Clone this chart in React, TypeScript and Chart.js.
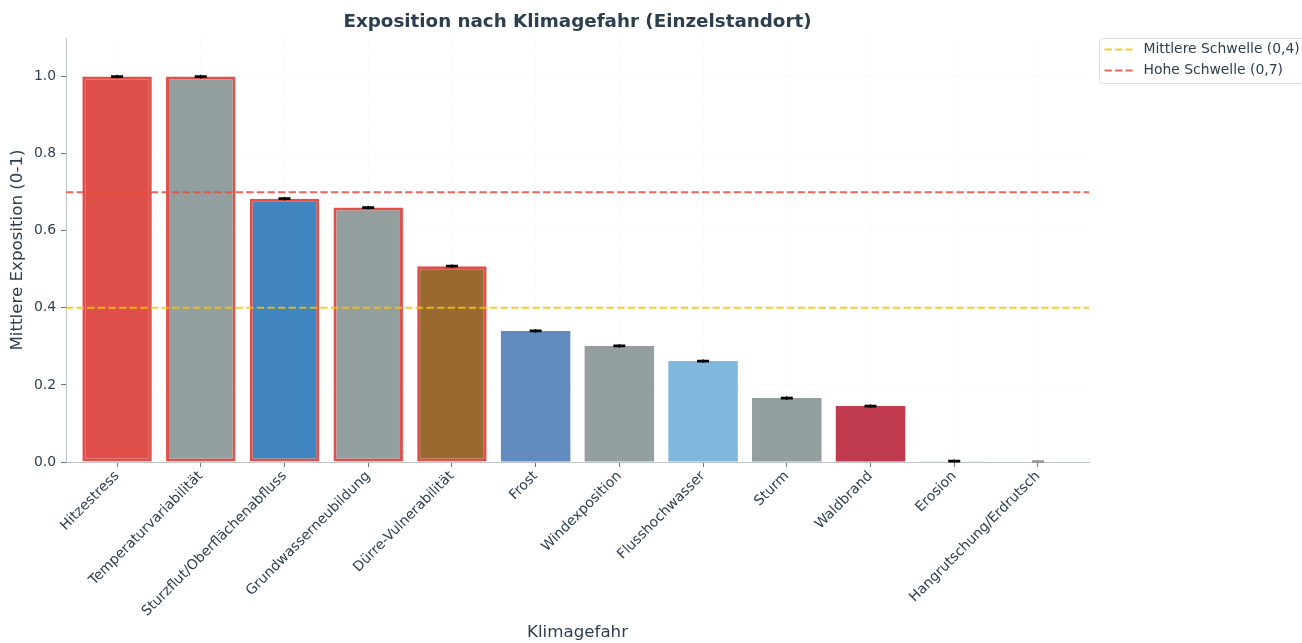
import React, { useEffect, useRef } from "react";
import { Chart, registerables } from "chart.js";

Chart.register(...registerables);

const categories = [
  "Hitzestress",
  "Temperaturvariabilität",
  "Sturzflut/Oberflächenabfluss",
  "Grundwasserneubildung",
  "Dürre-Vulnerabilität",
  "Frost",
  "Windexposition",
  "Flusshochwasser",
  "Sturm",
  "Waldbrand",
  "Erosion",
  "Hangrutschung/Erdrutsch",
];
const exposure = [1.0, 1.0, 0.683, 0.66, 0.508, 0.34, 0.301, 0.262, 0.166, 0.145, 0.002, 0.001];
const errors = [0.001, 0.001, 0.001, 0.001, 0.001, 0.001, 0.001, 0.001, 0.001, 0.001, 0.001, 0.001];
const barColors = [
  "#df4f49", "#939e9e", "#4185c0", "#939e9e", "#9a6930", "#628bbf",
  "#939e9e", "#80b8dd", "#939e9e", "#be3a4c", "#dcdcdc", "#e4e4e4",
];
const capColors = ["#000", "#000", "#000", "#000", "#000", "#000", "#000", "#000", "#000", "#000", "#000", "#999"];
const yTicks = [0, 0.2, 0.4, 0.6, 0.8, 1.0];
const thresholds = [0.4, 0.7];
const thresholdLabels = ["Mittlere Schwelle (0,4)", "Hohe Schwelle (0,7)"];
const thresholdColors = ["rgba(241,196,15,0.85)", "rgba(231,76,60,0.85)"];
const highLimit = 0.5;

const TITLE = "Exposition nach Klimagefahr (Einzelstandort)";
const FONT = "'DejaVu Sans', sans-serif";
const TEXT = "#2c3e50";

const overlay = {
  id: "overlay",
  afterDatasetsDraw(chart: any) {
    const { ctx, chartArea, scales } = chart;
    const x = scales.x;
    const y = scales.y;
    ctx.save();
    thresholds.forEach((t, k) => {
      const py = y.getPixelForValue(t);
      ctx.beginPath();
      ctx.setLineDash([7.4, 3.2]);
      ctx.strokeStyle = thresholdColors[k];
      ctx.lineWidth = 2;
      ctx.moveTo(chartArea.left, py);
      ctx.lineTo(chartArea.right, py);
      ctx.stroke();
    });
    ctx.setLineDash([]);
    exposure.forEach((v, i) => {
      const px = x.getPixelForValue(i);
      const yt = y.getPixelForValue(v + errors[i]);
      const yb = y.getPixelForValue(Math.max(0, v - errors[i]));
      ctx.strokeStyle = capColors[i];
      ctx.lineWidth = 1.2;
      ctx.beginPath();
      ctx.moveTo(px, yt - 1.5);
      ctx.lineTo(px, yb + 1.5);
      ctx.stroke();
      ctx.lineWidth = 2;
      ctx.beginPath();
      ctx.moveTo(px - 6, yt);
      ctx.lineTo(px + 6, yt);
      ctx.moveTo(px - 6, yb);
      ctx.lineTo(px + 6, yb);
      ctx.stroke();
    });
    ctx.restore();
  },
  afterDraw(chart: any) {
    const { ctx, chartArea } = chart;
    ctx.save();
    ctx.fillStyle = TEXT;
    ctx.font = `bold 18.3px ${FONT}`;
    ctx.textAlign = "center";
    ctx.textBaseline = "middle";
    ctx.fillText(TITLE, (chartArea.left + chartArea.right) / 2, 22);
    const lx = chartArea.right + 10.5;
    const ly = chartArea.top + 0.5;
    ctx.beginPath();
    ctx.fillStyle = "rgba(255,255,255,0.9)";
    ctx.strokeStyle = "#dcdfe2";
    ctx.lineWidth = 1;
    (ctx as any).roundRect(lx, ly, 230, 45, 3);
    ctx.fill();
    ctx.stroke();
    ctx.font = `13.9px ${FONT}`;
    ctx.textAlign = "left";
    thresholdLabels.forEach((lab, k) => {
      const yy = ly + 11 + k * 21;
      ctx.beginPath();
      ctx.setLineDash([7.4, 3.2]);
      ctx.strokeStyle = thresholdColors[k];
      ctx.lineWidth = 2;
      ctx.moveTo(lx + 5, yy);
      ctx.lineTo(lx + 33, yy);
      ctx.stroke();
      ctx.setLineDash([]);
      ctx.fillStyle = TEXT;
      ctx.fillText(lab, lx + 44, yy);
    });
    ctx.restore();
  },
};

export default function App() {
  const ref = useRef<HTMLCanvasElement | null>(null);
  useEffect(() => {
    if (!ref.current) return;
    const chart = new Chart(ref.current, {
      type: "bar",
      data: {
        datasets: [
          {
            data: exposure.map((v, i) => ({ x: i, y: v })),
            backgroundColor: barColors,
            borderColor: exposure.map((v) => (v > highLimit ? "#e0504a" : "rgba(0,0,0,0)")),
            borderWidth: exposure.map((v) => (v > highLimit ? 3 : 0)),
            borderSkipped: false,
            categoryPercentage: 1,
            barPercentage: 0.83,
          } as any,
        ],
      },
      options: {
        animation: false,
        responsive: true,
        maintainAspectRatio: false,
        layout: { padding: { left: 0, right: 213, top: 38, bottom: 0 } },
        plugins: {
          legend: { display: false },
          title: { display: false },
          tooltip: { enabled: false },
        },
        scales: {
          x: {
            type: "linear",
            offset: false,
            min: -0.61,
            max: 11.61,
            afterBuildTicks: (s: any) => {
              s.ticks = categories.map((_, i) => ({ value: i }));
            },
            afterFit: (s: any) => {
              s.height = 181;
            },
            ticks: {
              autoSkip: false,
              minRotation: 45,
              maxRotation: 45,
              padding: 1,
              color: TEXT,
              font: { family: FONT, size: 13.9 },
              callback: (v: any) => categories[v] ?? "",
            },
            grid: {
              offset: false,
              color: "rgba(0,0,0,0.05)",
              lineWidth: 1,
              tickColor: "#6b7785",
              tickLength: 5,
            },
            border: { color: "#bdc3c7", width: 1, dash: [1, 2] },
            title: {
              display: true,
              text: "Klimagefahr",
              color: TEXT,
              font: { family: FONT, size: 16.7 },
              padding: { top: 0, bottom: 0 },
            },
          },
          y: {
            min: 0,
            max: 1.1,
            afterBuildTicks: (s: any) => {
              s.ticks = yTicks.map((v) => ({ value: v }));
            },
            afterFit: (s: any) => {
              s.width = 66;
            },
            ticks: {
              color: TEXT,
              padding: 5,
              font: { family: FONT, size: 13.9 },
              callback: (v: any) => Number(v).toFixed(1),
            },
            grid: {
              color: "rgba(0,0,0,0.05)",
              lineWidth: 1,
              tickColor: "#6b7785",
              tickLength: 5,
            },
            border: { color: "#bdc3c7", width: 1, dash: [1, 2] },
            title: {
              display: true,
              text: "Mittlere Exposition (0-1)",
              color: TEXT,
              font: { family: FONT, size: 16.7 },
              padding: { top: 8, bottom: 0 },
            },
          },
        },
      },
      plugins: [overlay],
    });
    return () => chart.destroy();
  }, []);
  return (
    <div style={{ position: "fixed", left: 0, top: 0, width: 1302, height: 643, background: "#fff" }}>
      <canvas ref={ref} />
    </div>
  );
}
